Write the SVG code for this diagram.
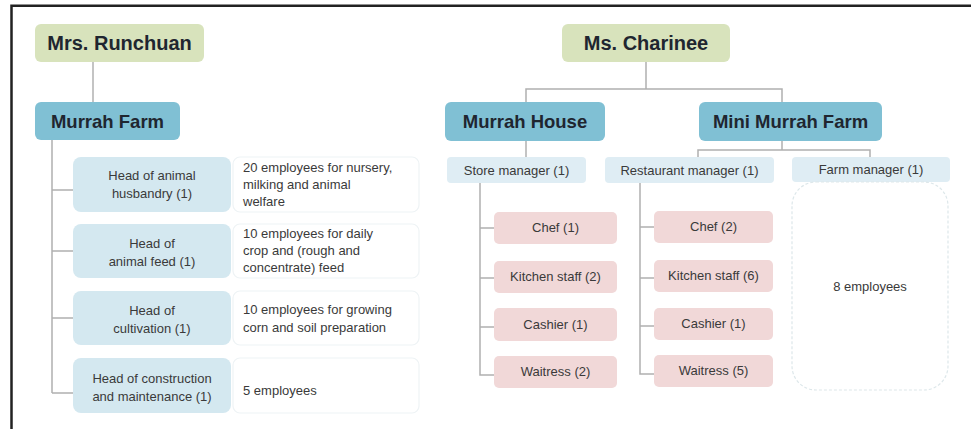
<svg xmlns="http://www.w3.org/2000/svg" width="971" height="429" viewBox="0 0 971 429">
  <style>
    text { font-family: "Liberation Sans", Arial, sans-serif; fill: #3a3a3a; }
    .owner rect { fill: #d8e3bc; }
    .unit rect { fill: #80c0d4; }
    .big { font-size: 20px; font-weight: bold; fill: #1f2630; text-anchor: middle; }
    .mid { font-size: 18.5px; font-weight: bold; fill: #1f2630; text-anchor: middle; }
    .head rect { fill: #d4e8f0; }
    .desc rect { fill: #ffffff; stroke: #eef3f5; stroke-width: 1.2; }
    .mgr rect { fill: #dfedf4; }
    .staff rect { fill: #f1d8d8; }
    .sm { font-size: 13px; text-anchor: middle; }
    .lt { font-size: 13px; text-anchor: start; }
    .conn path { fill: none; stroke: #b0b0b0; stroke-width: 1.5; }
    .frame { fill: none; stroke: #222222; stroke-width: 2.5; }
  </style>

  <!-- outer frame (top and left edges) -->
  <path class="frame" d="M11.5 429 V5.8 H971"/>

  <!-- connectors -->
  <g id="connectors" class="conn">
    <path d="M93 62 V102"/>
    <path d="M52 140 V393 M52 190 H73 M52 251 H73 M52 318 H73 M52 393 H73"/>
    <path d="M646 62 V89 M526 102 V89 H782 V102"/>
    <path d="M526 141 V157"/>
    <path d="M782 141 V150 M698 157 V150 H870 V157"/>
    <path d="M480 183 V375 H494 M480 228 H494 M480 278 H494 M480 327 H494"/>
    <path d="M640 183 V374 H654 M640 227 H654 M640 278 H654 M640 326 H654"/>
  </g>

  <!-- Mrs. Runchuan branch -->
  <g id="runchuan" class="owner">
    <rect x="35" y="24" width="169" height="38" rx="6"/>
    <text class="big" x="119.5" y="50">Mrs. Runchuan</text>
  </g>
  <g id="murrah-farm" class="unit">
    <rect x="35" y="102" width="145" height="38" rx="6"/>
    <text class="mid" x="107.5" y="128">Murrah Farm</text>
  </g>

  <g id="head-husbandry" class="head">
    <rect x="73" y="157" width="158" height="55" rx="8"/>
    <text class="sm" x="152" y="180">Head of animal</text>
    <text class="sm" x="152" y="198">husbandry (1)</text>
  </g>
  <g id="desc-husbandry" class="desc">
    <rect x="233" y="157" width="186" height="55" rx="7"/>
    <text class="lt" x="243" y="172">20 employees for nursery,</text>
    <text class="lt" x="243" y="189">milking and animal</text>
    <text class="lt" x="243" y="206">welfare</text>
  </g>

  <g id="head-feed" class="head">
    <rect x="73" y="224" width="158" height="54" rx="8"/>
    <text class="sm" x="152" y="248">Head of</text>
    <text class="sm" x="152" y="266">animal feed (1)</text>
  </g>
  <g id="desc-feed" class="desc">
    <rect x="233" y="224" width="186" height="54" rx="7"/>
    <text class="lt" x="243" y="238">10 employees for daily</text>
    <text class="lt" x="243" y="255">crop and (rough and</text>
    <text class="lt" x="243" y="272">concentrate) feed</text>
  </g>

  <g id="head-cultivation" class="head">
    <rect x="73" y="291" width="158" height="54" rx="8"/>
    <text class="sm" x="152" y="315">Head of</text>
    <text class="sm" x="152" y="333">cultivation (1)</text>
  </g>
  <g id="desc-cultivation" class="desc">
    <rect x="233" y="291" width="186" height="54" rx="7"/>
    <text class="lt" x="243" y="314">10 employees for growing</text>
    <text class="lt" x="243" y="332">corn and soil preparation</text>
  </g>

  <g id="head-construction" class="head">
    <rect x="73" y="358" width="158" height="55" rx="8"/>
    <text class="sm" x="152" y="383">Head of construction</text>
    <text class="sm" x="152" y="401">and maintenance (1)</text>
  </g>
  <g id="desc-construction" class="desc">
    <rect x="233" y="358" width="186" height="55" rx="7"/>
    <text class="lt" x="243" y="395">5 employees</text>
  </g>

  <!-- Ms. Charinee branch -->
  <g id="charinee" class="owner">
    <rect x="562" y="24" width="168" height="38" rx="6"/>
    <text class="big" x="646" y="50">Ms. Charinee</text>
  </g>
  <g id="murrah-house" class="unit">
    <rect x="445" y="102" width="160" height="39" rx="6"/>
    <text class="mid" x="525" y="128">Murrah House</text>
  </g>
  <g id="mini-murrah-farm" class="unit">
    <rect x="699" y="102" width="183" height="39" rx="6"/>
    <text class="mid" x="790.5" y="128">Mini Murrah Farm</text>
  </g>

  <g id="store-manager" class="mgr">
    <rect x="447" y="157" width="139" height="26" rx="4"/>
    <text class="sm" x="516.5" y="175">Store manager (1)</text>
  </g>
  <g id="restaurant-manager" class="mgr">
    <rect x="605" y="157" width="169" height="26" rx="4"/>
    <text class="sm" x="689.5" y="175">Restaurant manager (1)</text>
  </g>
  <g id="farm-manager" class="mgr">
    <rect x="792" y="157" width="158" height="25" rx="4"/>
    <text class="sm" x="871" y="174">Farm manager (1)</text>
  </g>

  <g id="store-chef" class="staff">
    <rect x="494" y="212" width="123" height="32" rx="5"/>
    <text class="sm" x="555.5" y="232">Chef (1)</text>
  </g>
  <g id="store-kitchen" class="staff">
    <rect x="494" y="261" width="123" height="32" rx="5"/>
    <text class="sm" x="555.5" y="281">Kitchen staff (2)</text>
  </g>
  <g id="store-cashier" class="staff">
    <rect x="494" y="308" width="123" height="33" rx="5"/>
    <text class="sm" x="555.5" y="329">Cashier (1)</text>
  </g>
  <g id="store-waitress" class="staff">
    <rect x="494" y="356" width="123" height="32" rx="5"/>
    <text class="sm" x="555.5" y="376">Waitress (2)</text>
  </g>

  <g id="rest-chef" class="staff">
    <rect x="654" y="211" width="119" height="32" rx="5"/>
    <text class="sm" x="713.5" y="231">Chef (2)</text>
  </g>
  <g id="rest-kitchen" class="staff">
    <rect x="654" y="260" width="119" height="32" rx="5"/>
    <text class="sm" x="713.5" y="280">Kitchen staff (6)</text>
  </g>
  <g id="rest-cashier" class="staff">
    <rect x="654" y="308" width="119" height="32" rx="5"/>
    <text class="sm" x="713.5" y="328">Cashier (1)</text>
  </g>
  <g id="rest-waitress" class="staff">
    <rect x="654" y="355" width="119" height="32" rx="5"/>
    <text class="sm" x="713.5" y="375">Waitress (5)</text>
  </g>

  <g id="farm-employees">
    <rect x="792" y="182" width="156" height="208" rx="24" fill="#ffffff" stroke="#dde7ea" stroke-width="1.2" stroke-dasharray="3 2"/>
    <text class="sm" x="870" y="291">8 employees</text>
  </g>
</svg>
